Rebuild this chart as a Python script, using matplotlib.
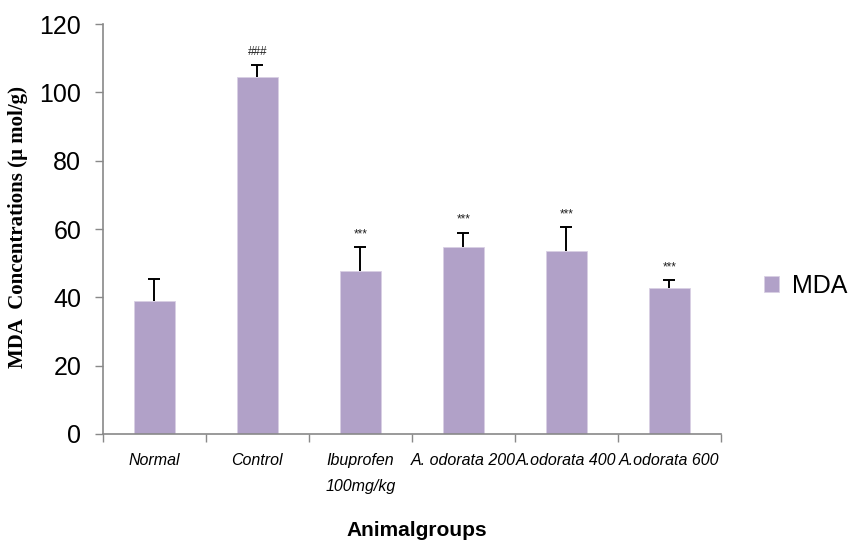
import matplotlib
matplotlib.use("Agg")
from matplotlib import pyplot as plt
import numpy as np

# MDA levels per animal group (mean and upper error)
groups = ['Normal', 'Control', 'Ibuprofen\n100mg/kg', 'A. odorata 200', 'A.odorata 400', 'A.odorata 600']
mda = [39.0, 104.5, 47.6, 54.6, 53.6, 42.6]
mda_err = [6.5, 3.5, 7.0, 4.3, 6.9, 2.4]
marks = ['', '###', '***', '***', '***', '***']

bar_color = '#b1a1c8'
axis_color = '#898989'

plt.rcParams['font.family'] = ['Liberation Sans', 'DejaVu Sans']

fig = plt.figure(figsize=(8.51, 5.41), dpi=100)
ax = fig.add_axes([0.1207, 0.1978, 0.7262, 0.7578])

x = np.arange(len(groups))
ax.bar(x, mda, width=0.4, color=bar_color, edgecolor='#d9d0e4', linewidth=0.6,
       label='MDA', zorder=2)
_, caps, _ = ax.errorbar(x, mda, yerr=[np.zeros(len(mda)), mda_err], fmt='none',
                         ecolor='black', elinewidth=1.4, capsize=4.3, capthick=1.4,
                         zorder=3)
caps[0].set_visible(False)  # only the upper cap

# significance marks above the error caps
for xi, m, e, s in zip(x, mda, mda_err, marks):
    if s:
        ax.annotate(s, (xi, m + e), xytext=(0, 9.5), textcoords='offset points',
                    ha='center', va='center', fontsize=8.5, color='#222222')

ax.set_xlim(-0.5, len(groups) - 0.5)
ax.set_ylim(0, 120)
ax.set_yticks(np.arange(0, 121, 20))

# ticks on the group boundaries, labels in the middle
ax.set_xticks(np.arange(-0.5, len(groups), 1.0))
ax.set_xticklabels([])
ax.set_xticks(x, minor=True)
ax.set_xticklabels(groups, minor=True, fontsize=11.5, style='italic',
                   linespacing=1.9, va='top')
ax.tick_params(axis='x', which='minor', length=0, pad=14)
ax.tick_params(axis='x', which='major', length=5.5, width=1, color=axis_color)
ax.tick_params(axis='y', length=5.5, width=1, color=axis_color,
               labelsize=18, pad=10)

for side in ['top', 'right']:
    ax.spines[side].set_visible(False)
for side in ['left', 'bottom']:
    ax.spines[side].set_color(axis_color)
    ax.spines[side].set_linewidth(1.2)

ax.set_ylabel('MDA  Concentrations (µ mol/g)', family=['Liberation Serif', 'DejaVu Serif'],
              fontweight='bold', fontsize=15, va='center')
ax.yaxis.set_label_coords(-0.137, 0.505)
ax.set_xlabel('Animalgroups', fontweight='bold', fontsize=15, va='center')
ax.xaxis.set_label_coords(0.509, -0.235)

fig.legend(loc='center left', bbox_to_anchor=(764 / 851, 1 - 286 / 541),
           frameon=False, fontsize=18, handlelength=0.6, handleheight=0.6,
           handletextpad=0.5, borderpad=0, borderaxespad=0)

fig.savefig('out.png', dpi=100)
